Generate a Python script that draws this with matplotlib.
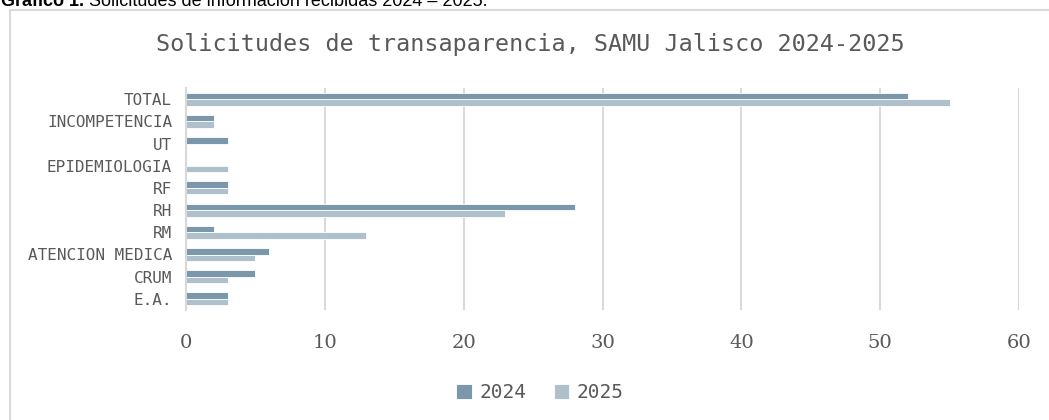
import matplotlib
matplotlib.use("Agg")
import matplotlib.pyplot as plt
import numpy as np
from matplotlib.patches import Rectangle

categories = ["TOTAL", "INCOMPETENCIA", "UT", "EPIDEMIOLOGIA", "RF", "RH", "RM",
              "ATENCION MEDICA", "CRUM", "E.A."]
values_2024 = [52, 2, 3, 0, 3, 28, 2, 6, 5, 3]
values_2025 = [55, 2, 0, 3, 3, 23, 13, 5, 3, 3]
series_labels = ["2024", "2025"]
x_ticks = [0, 10, 20, 30, 40, 50, 60]

c24 = "#7b97ab"
c25 = "#afc0cd"
grid_c = "#d9d9d9"
txt_c = "#595959"

fig = plt.figure(figsize=(10.49, 4.2), dpi=100)
W, H = 1049, 420

# outer chart frame
fig.patches.append(Rectangle((10 / W, -0.05), 1.2, 1 - 10 / H + 0.05,
                             transform=fig.transFigure, fill=False,
                             edgecolor=grid_c, linewidth=1.5))

# caption at top (partly cut off by the page edge, as in the original)
cap1 = fig.text(1 / W, 1 - 6 / H, "Gráfico 1.", fontsize=13, fontweight="bold",
                family="Liberation Sans", va="baseline", ha="left", color="black")
fig.canvas.draw()
bb = cap1.get_window_extent()
fig.text((bb.x1 + 5) / W, 1 - 6 / H, "Solicitudes de información recibidas 2024 – 2025.",
         fontsize=13, family="Liberation Sans", va="baseline", ha="left", color="black")

ax = fig.add_axes([186 / W, 1 - 310 / H, (1019 - 186) / W, (310 - 88) / H])

n = len(categories)
y = np.arange(n)[::-1]
h = 0.29
ax.barh(y + h / 2, values_2024, height=h, color=c24, edgecolor="white",
        linewidth=0.6, label=series_labels[0], zorder=3)
ax.barh(y - h / 2, values_2025, height=h, color=c25, edgecolor="white",
        linewidth=0.6, label=series_labels[1], zorder=3)

ax.set_xlim(0, 60)
ax.set_ylim(-0.5, n - 0.5)
ax.set_xticks(x_ticks)
ax.set_xticklabels([str(t) for t in x_ticks], family="DejaVu Serif",
                   fontsize=14, color=txt_c)
ax.set_yticks(y)
ax.set_yticklabels(categories, family="DejaVu Sans Mono", fontsize=11.5, color=txt_c)
ax.tick_params(axis="both", length=0)
ax.tick_params(axis="x", pad=17)
ax.tick_params(axis="y", pad=10)

ax.xaxis.grid(True, color=grid_c, linewidth=1.5, zorder=0)
for s in ["top", "right", "bottom"]:
    ax.spines[s].set_visible(False)
ax.spines["left"].set_color(grid_c)
ax.spines["left"].set_linewidth(1.5)
ax.spines["left"].set_zorder(4)

fig.text(530 / W, 1 - 44 / H, "Solicitudes de transaparencia, SAMU Jalisco 2024-2025",
         family="DejaVu Sans Mono", fontsize=16.8, color=txt_c, ha="center", va="center")

leg = fig.legend(loc="center", bbox_to_anchor=(540 / W, 1 - 393 / H), ncol=2,
                 frameon=False, prop={"family": "DejaVu Sans Mono", "size": 14},
                 handlelength=0.8, handleheight=0.8, handletextpad=0.4,
                 columnspacing=1.4)
for t in leg.get_texts():
    t.set_color(txt_c)

fig.savefig("out.png", dpi=100)
